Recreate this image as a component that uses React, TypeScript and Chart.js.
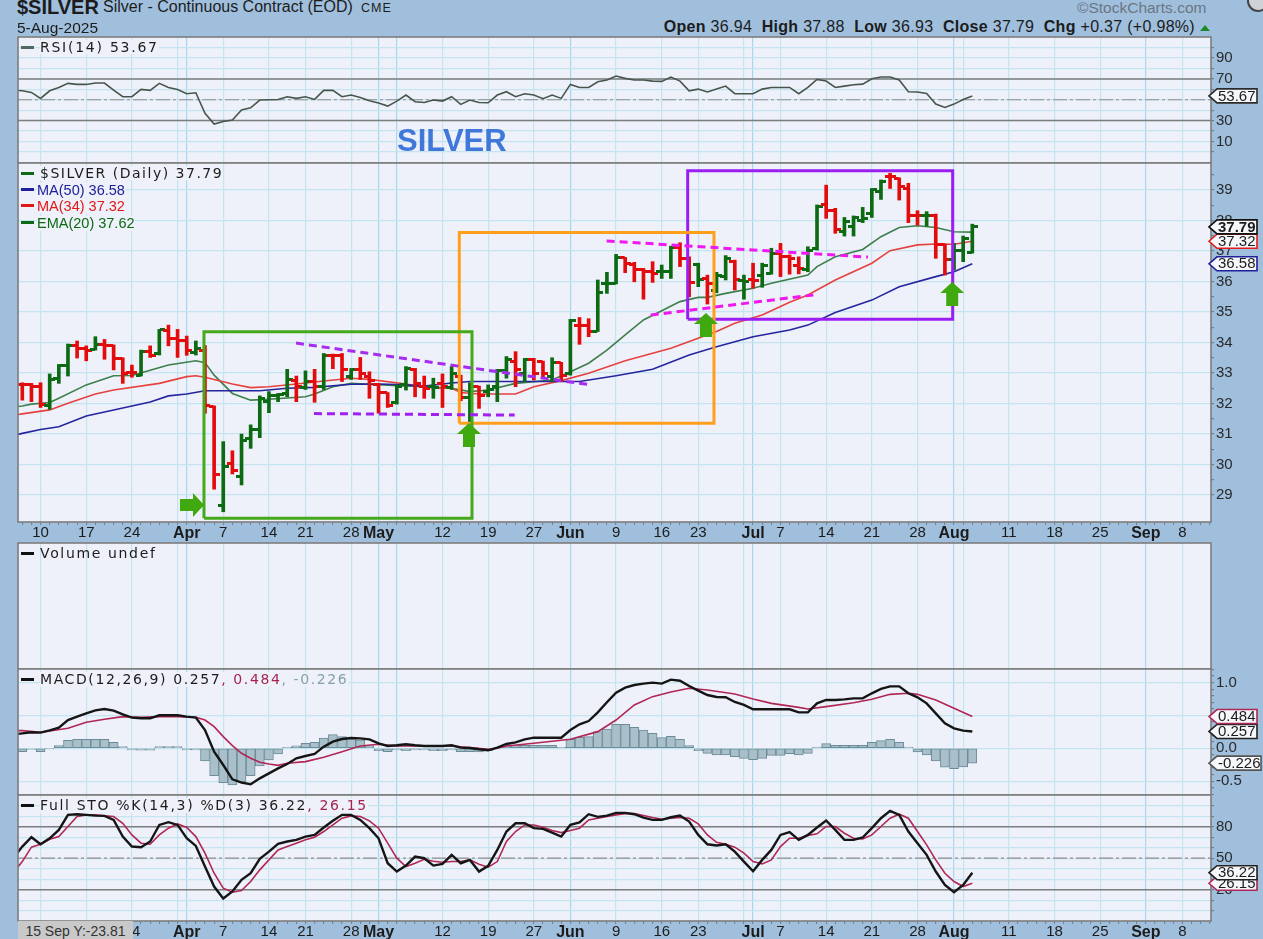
import React, { useEffect, useRef } from "react";
import { Chart, registerables } from "chart.js";

Chart.register(...registerables);

// ---- shared time axis (trading-day index, 0 = 6 Mar 2025) ----
const X_MIN = -0.47;
const X_MAX = 130.13;
const gridDays = [2, 7, 12, 17, 18, 22, 27, 31, 36, 39, 41, 46, 51, 56, 60, 65, 70, 74, 79, 80, 83, 88, 93, 98, 102, 103, 108, 113, 118, 123, 127];
const gridLabels = ["10", "17", "24", "", "Apr", "7", "14", "21", "28", "May", "", "12", "19", "27", "Jun", "9", "16", "23", "", "Jul", "7", "14", "21", "28", "Aug", "", "11", "18", "25", "Sep", "8"];
const monthLabels = ["Apr", "May", "Jun", "Jul", "Aug", "Sep"];

// ---- price bars ----
const opens = [32.61, 32.61, 32.55, 31.95, 32.83, 33.26, 33.89, 33.81, 33.78, 33.95, 33.89, 33.48, 33.01, 32.93, 33.70, 33.64, 34.39, 34.14, 34.05, 33.67, 33.75, 31.90, 28.64, 30.02, 29.62, 30.86, 31.15, 32.06, 32.25, 32.33, 32.77, 32.53, 32.72, 32.55, 33.56, 33.59, 32.88, 33.10, 32.90, 32.61, 32.36, 32.03, 32.61, 33.12, 32.55, 32.55, 32.64, 32.53, 32.88, 32.20, 32.55, 32.39, 32.55, 33.08, 33.39, 32.99, 33.43, 33.37, 32.88, 33.34, 32.99, 34.55, 34.55, 34.36, 35.94, 35.94, 36.78, 36.57, 36.38, 36.32, 36.32, 36.32, 37.12, 36.76, 36.57, 36.10, 35.70, 36.16, 36.65, 36.03, 36.05, 36.21, 36.27, 36.92, 36.81, 36.51, 36.38, 37.09, 38.51, 38.34, 37.63, 37.80, 37.99, 38.23, 38.95, 39.44, 39.38, 39.05, 38.18, 38.18, 38.18, 37.20, 36.73, 37.03, 36.94];
const highs = [32.68, 32.66, 32.68, 32.97, 33.28, 33.95, 34.05, 33.89, 34.19, 34.10, 33.92, 33.50, 33.26, 33.75, 33.89, 34.43, 34.57, 34.43, 34.21, 34.05, 33.90, 31.92, 30.75, 30.45, 31.00, 31.30, 32.25, 32.39, 32.33, 33.12, 32.90, 33.07, 33.12, 33.64, 33.62, 33.64, 33.15, 33.51, 33.04, 32.66, 32.36, 32.61, 33.21, 33.15, 32.90, 32.83, 32.97, 33.21, 32.93, 32.68, 32.57, 32.61, 33.12, 33.54, 33.70, 33.48, 33.48, 33.39, 33.50, 33.35, 34.76, 34.82, 34.78, 36.05, 36.30, 36.89, 36.79, 36.63, 36.43, 36.65, 36.54, 37.16, 37.27, 36.81, 36.60, 36.21, 36.30, 36.85, 36.70, 36.21, 36.60, 36.60, 37.09, 37.25, 36.87, 36.81, 37.14, 38.51, 39.16, 38.40, 38.10, 38.15, 38.43, 39.05, 39.33, 39.55, 39.40, 39.22, 38.32, 38.29, 38.21, 37.23, 37.25, 37.49, 37.88];
const lows = [32.11, 32.06, 31.87, 31.81, 32.66, 32.90, 33.49, 33.40, 33.75, 33.45, 33.10, 32.66, 32.86, 32.90, 33.51, 33.59, 33.89, 33.51, 33.58, 33.59, 31.68, 29.19, 28.45, 29.69, 29.33, 30.53, 30.88, 31.70, 32.06, 32.22, 32.06, 32.46, 32.04, 32.46, 33.14, 32.72, 32.79, 32.79, 32.17, 31.68, 31.87, 31.98, 32.44, 32.22, 32.17, 32.17, 31.87, 32.46, 32.09, 31.40, 31.84, 32.22, 32.06, 32.83, 32.55, 32.72, 32.77, 32.83, 32.72, 32.72, 32.93, 33.94, 34.19, 34.36, 35.61, 35.92, 36.29, 35.99, 35.42, 35.97, 36.10, 36.10, 36.49, 35.50, 35.83, 35.26, 35.63, 36.05, 35.72, 35.42, 35.78, 35.81, 36.24, 36.16, 36.24, 36.25, 36.32, 37.03, 38.07, 37.58, 37.49, 37.49, 37.93, 38.10, 38.69, 39.05, 38.67, 37.93, 37.85, 37.82, 36.76, 36.21, 36.38, 36.65, 36.93];
const closes = [32.61, 32.55, 31.97, 32.80, 33.26, 33.89, 33.79, 33.75, 33.95, 33.91, 33.48, 32.99, 33.01, 33.72, 33.56, 34.41, 34.14, 34.05, 33.75, 33.81, 31.92, 29.68, 29.93, 29.80, 30.80, 31.15, 32.17, 32.25, 32.31, 32.79, 32.55, 32.72, 32.55, 33.59, 33.56, 33.10, 33.10, 32.99, 32.77, 32.36, 31.95, 32.55, 33.15, 32.66, 32.50, 32.52, 32.55, 32.99, 32.20, 32.57, 32.25, 32.46, 33.08, 33.43, 33.10, 33.45, 32.99, 32.99, 33.34, 32.93, 34.72, 34.55, 34.36, 35.63, 35.94, 36.79, 36.60, 36.38, 36.32, 36.27, 36.32, 37.12, 36.76, 35.97, 36.05, 35.94, 36.21, 36.76, 36.05, 35.99, 36.03, 36.54, 36.92, 36.81, 36.76, 36.43, 37.01, 38.45, 38.34, 37.71, 37.96, 38.10, 38.07, 39.00, 39.27, 39.44, 39.11, 38.18, 38.15, 38.18, 37.20, 36.73, 37.03, 37.42, 37.79];
const barDirs = ("dddUUUddUd" + "dddUdUdddU" + "ddUdUUUUUU" + "dUdUddUddd" + "dUUddUdUdU" + "dUUUdUddUd" + "UddUUUdddd" + "UUddUdUUdU" + "dUUdddUUdd" + "UUUUUddddU" + "ddUUU").split("");

// ---- moving averages (sampled at the listed days) ----
const ma50Days = [-1, 0, 2, 4, 7, 10, 14, 16, 18, 20, 23, 26, 29, 32, 36, 39, 42, 44, 47, 49, 54, 61, 65, 69, 73, 76, 80, 84, 86, 89, 93, 96, 100, 102, 104];
const ma50Vals = [30.95, 31.02, 31.15, 31.24, 31.59, 31.79, 32.05, 32.25, 32.31, 32.42, 32.42, 32.42, 32.50, 32.53, 32.63, 32.64, 32.61, 32.57, 32.67, 32.72, 32.72, 32.72, 32.91, 33.12, 33.59, 33.86, 34.19, 34.41, 34.57, 34.98, 35.39, 35.83, 36.16, 36.32, 36.58];
const ma34Days = [-1, 0, 3, 5, 8, 10, 15, 18, 19, 20, 23, 25, 27, 30, 33, 36, 38, 42, 44, 47, 48, 50, 54, 56, 59, 62, 66, 71, 76, 78, 81, 84, 86, 89, 93, 95, 98, 100, 102, 104];
const ma34Vals = [31.62, 31.66, 31.79, 32.01, 32.31, 32.44, 32.66, 32.88, 32.91, 32.86, 32.64, 32.52, 32.55, 32.64, 32.74, 32.83, 32.79, 32.64, 32.53, 32.50, 32.36, 32.31, 32.31, 32.55, 32.75, 32.99, 33.40, 33.81, 34.36, 34.63, 34.90, 35.32, 35.56, 36.05, 36.60, 37.01, 37.20, 37.23, 37.22, 37.32];
const ema20Days = [-1, 0, 1, 3, 4, 7, 10, 12, 16, 19, 20, 21, 23, 25, 27, 31, 32, 34, 36, 38, 41, 44, 47, 49, 51, 54, 58, 60, 62, 64, 66, 68, 72, 74, 75, 77, 80, 82, 86, 87, 89, 92, 94, 96, 98, 100, 102, 104];
const ema20Vals = [31.88, 31.92, 31.98, 32.03, 32.17, 32.61, 32.91, 32.92, 33.26, 33.40, 33.34, 32.93, 32.33, 32.11, 32.14, 32.22, 32.31, 32.55, 32.66, 32.63, 32.58, 32.55, 32.50, 32.39, 32.44, 32.66, 32.77, 33.04, 33.32, 33.75, 34.25, 34.74, 35.34, 35.48, 35.48, 35.61, 35.78, 35.94, 36.21, 36.49, 36.81, 37.05, 37.47, 37.77, 37.83, 37.77, 37.63, 37.62];

// ---- hand-drawn annotations on the price pane ----
const greenBox = { days: [19.89, 49.23], prices: [28.24, 34.35] };
const orangeBox = { days: [47.84, 75.72], prices: [31.35, 37.61] };
const purpleBox = { days: [72.84, 101.85], prices: [34.76, 39.63] };
const purpleFallDays = [29.96, 62.25];
const purpleFallPrices = [33.98, 32.61];
const purpleFlatDays = [31.93, 53.9];
const purpleFlatPrices = [31.67, 31.62];
const magentaFallDays = [63.97, 92.58];
const magentaFallPrices = [37.33, 36.8];
const magentaRiseDays = [68.8, 86.6];
const magentaRisePrices = [34.9, 35.56];
const arrowDays = [19.89, 48.9, 74.84, 101.8];
const arrowPrices = [28.67, 31.36, 34.97, 35.98];
const arrowDirs = ["right", "up", "up", "up"];

// ---- RSI (first value sits one day before the first bar) ----
const rsiVals = [59.2, 58.6, 57.0, 51.3, 58.6, 61.8, 65.7, 64.7, 64.7, 66.0, 66.0, 59.3, 52.9, 52.9, 59.9, 59.0, 65.7, 61.8, 59.9, 55.8, 56.7, 36.9, 26.6, 29.2, 30.5, 40.1, 42.3, 49.7, 50.0, 50.3, 52.9, 51.3, 52.9, 50.3, 59.0, 59.0, 52.9, 54.5, 52.2, 49.0, 46.8, 43.9, 48.7, 54.5, 48.1, 47.4, 49.7, 48.7, 52.9, 45.5, 49.7, 47.4, 47.1, 54.5, 57.7, 52.9, 55.8, 54.5, 51.0, 54.5, 51.3, 64.7, 61.8, 61.8, 67.3, 68.9, 72.7, 70.5, 68.9, 68.9, 67.9, 67.6, 71.8, 67.9, 58.6, 60.2, 57.4, 60.2, 63.1, 55.8, 55.8, 55.8, 60.2, 61.8, 61.8, 61.8, 55.8, 61.8, 69.5, 67.9, 61.8, 63.1, 64.4, 65.0, 70.2, 71.8, 71.8, 68.9, 57.7, 57.4, 56.1, 45.8, 42.6, 45.8, 50.3, 53.67];

// ---- MACD ----
const macdVals = [0.21, 0.228, 0.244, 0.239, 0.274, 0.315, 0.431, 0.482, 0.533, 0.579, 0.599, 0.574, 0.518, 0.467, 0.457, 0.457, 0.503, 0.503, 0.503, 0.482, 0.467, 0.279, -0.051, -0.254, -0.472, -0.523, -0.548, -0.457, -0.381, -0.305, -0.239, -0.152, -0.117, -0.086, 0.025, 0.102, 0.142, 0.157, 0.152, 0.137, 0.076, 0.036, 0.046, 0.061, 0.046, 0.036, 0.036, 0.036, 0.046, 0.010, 0.005, -0.015, -0.030, 0.010, 0.066, 0.091, 0.137, 0.162, 0.162, 0.162, 0.162, 0.279, 0.365, 0.416, 0.548, 0.701, 0.848, 0.924, 0.964, 0.985, 1.0, 0.985, 1.046, 1.03, 0.949, 0.878, 0.812, 0.782, 0.777, 0.706, 0.66, 0.594, 0.594, 0.594, 0.594, 0.594, 0.548, 0.548, 0.685, 0.736, 0.736, 0.746, 0.761, 0.761, 0.838, 0.904, 0.944, 0.944, 0.838, 0.777, 0.685, 0.533, 0.381, 0.305, 0.269, 0.257];
const signalDays = [-1, 0, 2, 3, 5, 7, 9, 11, 13, 15, 17, 19, 20, 21, 22, 23, 24, 25, 26, 27, 28, 29, 31, 33, 35, 37, 39, 41, 44, 47, 49, 51, 52, 53, 56, 60, 63, 65, 67, 69, 71, 73, 75, 78, 80, 82, 85, 86, 88, 91, 93, 95, 97, 98, 100, 102, 104];
const signalVals = [0.27, 0.269, 0.244, 0.264, 0.305, 0.396, 0.442, 0.482, 0.472, 0.482, 0.482, 0.472, 0.431, 0.33, 0.178, 0.041, -0.076, -0.152, -0.213, -0.239, -0.259, -0.228, -0.203, -0.137, -0.051, 0.036, 0.061, 0.036, 0.036, 0.036, 0.01, -0.015, 0, 0.036, 0.076, 0.137, 0.254, 0.431, 0.66, 0.787, 0.858, 0.914, 0.888, 0.827, 0.751, 0.685, 0.624, 0.599, 0.635, 0.695, 0.746, 0.822, 0.838, 0.822, 0.736, 0.609, 0.484];
const histVals = [-0.051, -0.015, -0.051, -0.005, 0.041, 0.122, 0.137, 0.137, 0.137, 0.137, 0.091, 0.025, -0.025, -0.03, -0.03, 0.025, 0.025, 0.025, -0.025, -0.025, -0.193, -0.416, -0.523, -0.558, -0.508, -0.416, -0.269, -0.178, -0.086, 0.015, 0.036, 0.076, 0.091, 0.157, 0.208, 0.178, 0.152, 0.127, 0.036, -0.036, -0.051, -0.025, -0.036, -0.025, -0.025, -0.036, -0.036, -0.025, -0.051, -0.051, -0.056, -0.036, 0.0, 0.036, 0.046, 0.046, 0.046, 0.046, 0.046, 0.015, 0.137, 0.168, 0.178, 0.254, 0.294, 0.365, 0.365, 0.32, 0.279, 0.228, 0.162, 0.183, 0.137, 0.041, -0.036, -0.076, -0.102, -0.102, -0.127, -0.152, -0.173, -0.152, -0.107, -0.107, -0.081, -0.102, -0.076, 0.02, 0.071, 0.046, 0.046, 0.046, 0.046, 0.091, 0.117, 0.137, 0.091, 0.02, -0.056, -0.102, -0.193, -0.289, -0.31, -0.284, -0.226];

// ---- Full stochastic ----
const stoKVals = [50, 61.1, 70, 63.3, 69, 77, 91.3, 91.9, 91.3, 90.6, 90.3, 86.5, 70.6, 61.1, 60.5, 65.9, 81.7, 84.3, 81.7, 69, 61.7, 42.1, 23, 11.6, 18.3, 29.4, 35.7, 49.4, 56.3, 63.7, 65.9, 67.5, 70.6, 72.2, 79.2, 85.6, 91.3, 91.3, 86.5, 78.6, 69, 45.2, 37.3, 43, 51.6, 50, 43, 44.6, 53.2, 45.2, 48.4, 37.3, 42.7, 57.9, 75.4, 83.3, 83.3, 78.6, 77.9, 74.4, 70.6, 81.7, 84, 91.9, 89.4, 90.6, 93.2, 93.2, 91.9, 88.7, 86.5, 86.5, 89, 90.6, 84.9, 72.2, 63.3, 62.1, 63.3, 56.3, 46.8, 37.6, 48.4, 57.9, 72.2, 74.8, 67.5, 72.2, 79.2, 85.9, 77, 67.5, 67.5, 69.7, 78.6, 88.1, 95.1, 91.3, 75.4, 64.3, 53.2, 37.3, 24.6, 17.6, 24.6, 36.22];
const stoDVals = [36, 46.8, 60.5, 63.3, 68.1, 70.6, 80.2, 89.7, 91.3, 91.3, 90.3, 89.7, 83.3, 72.2, 64.3, 63.3, 72.2, 78.6, 82.7, 79.2, 70.6, 54.8, 35.7, 21.4, 17.6, 19.2, 27.8, 38.9, 48.4, 57.9, 61.1, 64.3, 67.5, 70, 75.4, 81.7, 88.1, 90.3, 89.7, 85.6, 78.6, 64.3, 50, 42.1, 45.2, 49, 47.1, 46.2, 46.8, 46.8, 48.4, 44.3, 41.4, 46.8, 65.9, 75.4, 81.7, 81.7, 79.5, 76.3, 74.4, 76.3, 78.6, 86.5, 88.1, 89.7, 91.3, 92.5, 92.5, 90.6, 88.7, 87.1, 88.1, 88.7, 88.1, 82.7, 72.2, 65.2, 63.3, 60.5, 54.8, 46.8, 44.6, 48.4, 61.1, 69, 69, 71.6, 73.2, 80.2, 80.2, 73.8, 69, 68.4, 72.2, 80.2, 88.1, 91.9, 88.1, 75.4, 62.7, 48.4, 35.7, 27.8, 23, 26.15];

// ---- axis ticks ----
const rsiTicks = [90, 80, 70, 60, 50, 40, 30, 20, 10, 0, 100];
const rsiLabels = [90, 70, 30, 10];
const priceTicks = [29, 29.5, 30, 30.5, 31, 31.5, 32, 32.5, 33, 33.5, 34, 34.5, 35, 35.5, 36, 36.5, 37, 37.5, 38, 38.5, 39, 39.5];
const priceLabels = [29, 30, 31, 32, 33, 34, 35, 36, 37, 38, 39];
const macdTicks = [-0.7, -0.6, -0.5, -0.4, -0.3, -0.2, -0.1, 0, 0.1, 0.2, 0.3, 0.4, 0.5, 0.6, 0.7, 0.8, 0.9, 1, 1.1, 1.2];
const macdLabels = [-0.5, 0, 1];
const macdGrid = [-0.5, 0, 0.5, 1];
const stoTicks = [0, 10, 20, 30, 40, 50, 60, 70, 80, 90, 100];
const stoLabels = [20, 50, 80];

const GRID = "#c4e5f0";
const GRID_MONTH = "#a6d8ee";
const FRAME = "#7d7d7d";
const PLOT = "#eff1fa";
const BG = "#9fbfdd";
const UP = "#0c6a12";
const DOWN = "#e30c0c";
const SIGNAL = "#b02655";

const xy = (xs: number[], ys: number[]) => xs.map((x, k) => ({ x, y: ys[k] }));
const fromLead = (ys: number[]) => ys.map((y, k) => ({ x: k - 1, y }));
const level = (y: number) => [{ x: X_MIN, y }, { x: X_MAX, y }];
const boxPath = (b: { days: number[]; prices: number[] }) => [
  { x: b.days[0], y: b.prices[0] },
  { x: b.days[1], y: b.prices[0] },
  { x: b.days[1], y: b.prices[1] },
  { x: b.days[0], y: b.prices[1] },
  { x: b.days[0], y: b.prices[0] },
];

const line = (data: any[], color: string, width: number, order: number, extra: any = {}) => ({
  type: "line", data, borderColor: color, borderWidth: width, pointRadius: 0, tension: 0, order, fill: false, ...extra,
});

function tickCanvas(color: string, side: "open" | "close") {
  const c = document.createElement("canvas");
  c.width = 11;
  c.height = 3;
  const g = c.getContext("2d")!;
  g.fillStyle = color;
  if (side === "open") g.fillRect(0, 0, 5, 3);
  else g.fillRect(6, 0, 5, 3);
  return c;
}

type Tag = { v: number; text: string; color: string; bold?: boolean; right?: number };

function chromePlugin(tags: Tag[], marks?: boolean) {
  return {
    id: "chrome",
    beforeDraw(chart: any) {
      const { ctx, chartArea: a } = chart;
      ctx.save();
      ctx.fillStyle = PLOT;
      ctx.fillRect(a.left, a.top, a.right - a.left, a.bottom - a.top);
      ctx.restore();
    },
    afterDatasetsDraw(chart: any) {
      if (!marks) return;
      const { ctx, scales } = chart;
      ctx.save();
      ctx.fillStyle = "#40a90f";
      arrowDays.forEach((d, k) => {
        const x = scales.x.getPixelForValue(d);
        const y = scales.y.getPixelForValue(arrowPrices[k]);
        ctx.beginPath();
        if (arrowDirs[k] === "right") {
          ctx.moveTo(x, y);
          ctx.lineTo(x - 11, y - 12);
          ctx.lineTo(x - 11, y - 6);
          ctx.lineTo(x - 24, y - 6);
          ctx.lineTo(x - 24, y + 6);
          ctx.lineTo(x - 11, y + 6);
          ctx.lineTo(x - 11, y + 12);
        } else {
          ctx.moveTo(x, y);
          ctx.lineTo(x + 12, y + 11);
          ctx.lineTo(x + 6, y + 11);
          ctx.lineTo(x + 6, y + 24);
          ctx.lineTo(x - 6, y + 24);
          ctx.lineTo(x - 6, y + 11);
          ctx.lineTo(x - 12, y + 11);
        }
        ctx.closePath();
        ctx.fill();
      });
      ctx.restore();
    },
    afterDraw(chart: any) {
      const { ctx, chartArea: a, scales } = chart;
      ctx.save();
      ctx.strokeStyle = FRAME;
      ctx.lineWidth = 1.6;
      ctx.strokeRect(a.left, a.top, a.right - a.left, a.bottom - a.top);
      tags.forEach((t) => {
        const y = scales.y.getPixelForValue(t.v);
        const L = a.right + 2;
        const B = a.right + 8;
        const R = a.right + (t.right ?? 46);
        ctx.beginPath();
        ctx.moveTo(L - 4, y);
        ctx.lineTo(B - 2, y - 7);
        ctx.lineTo(R, y - 7);
        ctx.lineTo(R, y + 7);
        ctx.lineTo(B - 2, y + 7);
        ctx.closePath();
        ctx.fillStyle = "#f5f7fb";
        ctx.fill();
        ctx.strokeStyle = t.color;
        ctx.lineWidth = 1.6;
        ctx.stroke();
        ctx.fillStyle = "#1c1c1c";
        ctx.font = `${t.bold ? "bold " : ""}15px "Liberation Sans"`;
        ctx.textBaseline = "middle";
        ctx.fillText(t.text, B - 1, y + 0.5);
      });
      ctx.restore();
    },
  };
}

function xAxis(labelled: boolean, bottom: number) {
  return {
    type: "linear",
    min: X_MIN,
    max: X_MAX,
    offset: false,
    border: { display: false },
    grid: {
      offset: false,
      color: (c: any) => {
        const k = gridDays.indexOf(c.tick?.value);
        if (k < 0) return "rgba(0,0,0,0)";
        return monthLabels.includes(gridLabels[k]) || k === 10 ? GRID_MONTH : GRID;
      },
      lineWidth: 1.2,
      drawTicks: labelled,
      tickLength: 3,
      tickColor: "#6f7f8f",
      tickWidth: 1,
    },
    ticks: {
      display: labelled,
      autoSkip: false,
      maxRotation: 0,
      padding: -1,
      color: "#1c1c1c",
      font: (c: any) => {
        const k = gridDays.indexOf(c.tick?.value);
        const bold = k >= 0 && monthLabels.includes(gridLabels[k]);
        return { family: "Liberation Sans", size: bold ? 16 : 15, weight: bold ? "bold" : "normal" };
      },
      callback: (v: number) => {
        const k = gridDays.indexOf(v);
        return k >= 0 ? gridLabels[k] : "";
      },
    },
    afterBuildTicks(s: any) {
      const t = [];
      for (let i = 0; i <= 130; i++) t.push({ value: i });
      s.ticks = t;
    },
    afterFit(s: any) {
      s.height = bottom;
      s.paddingLeft = 0;
      s.paddingRight = 0;
    },
  };
}

function yAxis(min: number, max: number, ticks: number[], labels: number[], gridAt: number[], fmt: (v: number) => string) {
  const has = (list: number[], v: number) => list.some((q) => Math.abs(q - v) < 1e-6);
  return {
    type: "linear",
    position: "right",
    min,
    max,
    border: { display: false },
    grid: {
      color: (c: any) => (has(gridAt, c.tick?.value) ? GRID : "rgba(0,0,0,0)"),
      lineWidth: 1.2,
      tickLength: 3,
      tickColor: "#6f7f8f",
      drawTicks: true,
    },
    ticks: {
      autoSkip: false,
      padding: 2,
      color: "#2a2a2a",
      font: { family: "Liberation Sans", size: 15 },
      callback: (v: number) => (has(labels, v) ? fmt(v) : ""),
    },
    afterBuildTicks(s: any) {
      s.ticks = ticks.filter((v) => v >= min && v <= max).map((value) => ({ value }));
    },
    afterFit(s: any) {
      s.width = 52;
      s.paddingTop = 0;
      s.paddingBottom = 0;
    },
  };
}

const PANES = [
  { top: 37, bottom: 163, extra: 0 },
  { top: 163, bottom: 522, extra: 22 },
  { top: 543, bottom: 669, extra: 0 },
  { top: 669, bottom: 795, extra: 0 },
  { top: 795, bottom: 921, extra: 18 },
];

function buildCharts(canvases: HTMLCanvasElement[]) {
  const allDays = opens.map((_, i) => i);
  const barColor = barDirs.map((d) => (d === "U" ? UP : DOWN));
  const openIcons = barDirs.map((d) => tickCanvas(d === "U" ? UP : DOWN, "open"));
  const closeIcons = barDirs.map((d) => tickCanvas(d === "U" ? UP : DOWN, "close"));
  const whole = (v: number) => String(v);

  const datasets: any[][] = [
    [
      line(level(70), FRAME, 1.5, 5),
      line(level(30), FRAME, 1.5, 5),
      line(level(50), "#8d8d8d", 1.2, 5, { borderDash: [14, 3, 3, 3] }),
      line(fromLead(rsiVals), "#46564c", 1.6, 1),
    ],
    [
      { type: "bar", data: allDays.map((i) => ({ x: i, y: [lows[i], highs[i]] })), backgroundColor: barColor, barThickness: 3, grouped: false, order: 4 },
      { type: "line", showLine: false, data: allDays.map((i) => ({ x: i, y: opens[i] })), pointStyle: openIcons, pointRadius: 3, order: 4 },
      { type: "line", showLine: false, data: allDays.map((i) => ({ x: i, y: closes[i] })), pointStyle: closeIcons, pointRadius: 3, order: 4 },
      line(xy(ma50Days, ma50Vals), "#25259e", 1.6, 6),
      line(xy(ma34Days, ma34Vals), "#e5423f", 1.6, 6),
      line(xy(ema20Days, ema20Vals), "#3d7f4a", 1.6, 6),
      line(boxPath(greenBox), "#45a91c", 3, 2),
      line(boxPath(orangeBox), "#ff9f1c", 3, 2),
      line(boxPath(purpleBox), "#9a1df2", 3, 2),
      line(xy(purpleFallDays, purpleFallPrices), "#a52cf0", 3, 1, { borderDash: [8, 5] }),
      line(xy(purpleFlatDays, purpleFlatPrices), "#a020f0", 3, 1, { borderDash: [8, 5] }),
      line(xy(magentaFallDays, magentaFallPrices), "#f018f0", 3, 1, { borderDash: [8, 5] }),
      line(xy(magentaRiseDays, magentaRisePrices), "#f018f0", 3, 1, { borderDash: [8, 5] }),
    ],
    [],
    [
      { type: "bar", data: histVals.map((y, i) => ({ x: i, y })), backgroundColor: "#a9c0ca", borderColor: "#6c8c99", borderWidth: 1, borderSkipped: false, barThickness: 9, grouped: false, order: 5 },
      line(xy(signalDays, signalVals), SIGNAL, 1.6, 3),
      line(fromLead(macdVals), "#151515", 2.4, 2),
    ],
    [
      line(level(80), FRAME, 1.5, 5),
      line(level(20), FRAME, 1.5, 5),
      line(level(50), "#8d8d8d", 1.2, 5, { borderDash: [14, 3, 3, 3] }),
      line(fromLead(stoDVals), SIGNAL, 1.6, 3),
      line(fromLead(stoKVals), "#151515", 2.4, 2),
    ],
  ];

  const macdFmt = (v: number) => (Math.abs(v) < 1e-6 ? "0.0" : v.toFixed(1));
  const yScales = [
    yAxis(-10.7, 110.2, rsiTicks, rsiLabels, rsiTicks, whole),
    yAxis(28.115, 39.885, priceTicks, priceLabels, priceLabels, whole),
    yAxis(0, 1, [], [], [], whole),
    yAxis(-0.711, 1.208, macdTicks, macdLabels, macdGrid, macdFmt),
    yAxis(-9.8, 110.2, stoTicks, stoLabels, stoTicks, whole),
  ];
  const tags: Tag[][] = [
    [{ v: 53.67, text: "53.67", color: "#2c2c2c" }],
    [
      { v: 36.58, text: "36.58", color: "#20209a" },
      { v: 37.32, text: "37.32", color: "#e01c1c" },
      { v: 37.79, text: "37.79", color: "#111111", bold: true },
    ],
    [],
    [
      { v: -0.226, text: "-0.226", color: "#555555", right: 50 },
      { v: 0.257, text: "0.257", color: "#222222" },
      { v: 0.484, text: "0.484", color: SIGNAL },
    ],
    [
      { v: 26.15, text: "26.15", color: SIGNAL },
      { v: 36.22, text: "36.22", color: "#222222" },
    ],
  ];

  return PANES.map((p, k) => {
    const c = canvases[k];
    return new Chart(c, {
      type: "line",
      data: { datasets: datasets[k] },
      options: {
        animation: false,
        responsive: false,
        devicePixelRatio: 1,
        layout: { autoPadding: false, padding: { left: 18, top: 2, right: 0, bottom: 0 } },
        plugins: { legend: { display: false }, tooltip: { enabled: false }, title: { display: false } },
        scales: { x: xAxis(p.extra > 0, p.extra), y: yScales[k] },
      },
      plugins: [chromePlugin(tags[k], k === 1)],
    } as any);
  });
}

const sans = '"Liberation Sans", Arial, sans-serif';
const verd = '"DejaVu Sans", Verdana, sans-serif';

function T({ x, y, size, color = "#1c1c1c", bold, font = sans, bg, spacing, children }: any) {
  return (
    <div
      style={{
        position: "absolute", left: x, top: y, fontFamily: font, fontSize: size, lineHeight: "1", color,
        fontWeight: bold ? 700 : 400, whiteSpace: "pre", background: bg, letterSpacing: spacing, transform: "translateY(-50%)",
      }}
    >
      {children}
    </div>
  );
}

function Dash({ x, y, color }: any) {
  return <div style={{ position: "absolute", left: x, top: y - 1, width: 13, height: 2.5, background: color }} />;
}

export default function App() {
  const refs = useRef<(HTMLCanvasElement | null)[]>([]);
  useEffect(() => {
    const charts = buildCharts(refs.current as HTMLCanvasElement[]);
    return () => charts.forEach((c) => c.destroy());
  }, []);

  return (
    <div style={{ position: "absolute", left: 0, top: 0, width: 1263, height: 939, overflow: "hidden", background: BG, filter: "blur(0.45px)" }}>
      {PANES.map((p, k) => (
        <canvas
          key={k}
          ref={(el) => { refs.current[k] = el; }}
          width={1263}
          height={p.bottom - p.top + 2 + p.extra}
          style={{ position: "absolute", left: 0, top: p.top - 2, display: "block" }}
        />
      ))}

      <T x={17} y={7} size={20} bold>$SILVER</T>
      <T x={103} y={7} size={16}>Silver - Continuous Contract (EOD)</T>
      <T x={361} y={8} size={12.5} spacing="1px">CME</T>
      <T x={17} y={28} size={15.5}>5-Aug-2025</T>
      <T x={1077} y={8} size={15.5} color="#6c7681">©StockCharts.com</T>
      <div style={{ position: "absolute", left: 1247, top: -10, width: 22, height: 22, borderRadius: "50%", border: "2px solid #444", background: "#cfd3d8", boxSizing: "border-box" }} />

      <div style={{ position: "absolute", right: 68, top: 19, fontFamily: sans, fontSize: 16, lineHeight: "16px", letterSpacing: "0.3px", color: "#1c1c1c", whiteSpace: "pre" }}>
        <b>Open</b> 36.94  <b>High</b> 37.88  <b>Low</b> 36.93  <b>Close</b> 37.79  <b>Chg</b> +0.37 (+0.98%)
      </div>
      <div style={{ position: "absolute", left: 1200, top: 25, width: 0, height: 0, borderLeft: "5px solid transparent", borderRight: "5px solid transparent", borderBottom: "6px solid #1f8a2a" }} />

      <T x={40} y={47} size={14} font={verd} spacing="1.75px" bg={PLOT}>RSI(14) 53.67</T>
      <Dash x={21} y={47} color="#4d6a60" />
      <T x={397} y={140} size={31} bold color="#3f78d8">SILVER</T>

      <T x={40} y={173} size={14} font={verd} spacing="1.5px" bg={PLOT}>$SILVER (Daily) 37.79</T>
      <Dash x={21} y={173} color="#0c6a12" />
      <Dash x={21} y={189} color="#20209a" />
      <T x={37} y={190} size={14.5} color="#20209a" bg={PLOT}>MA(50) 36.58</T>
      <Dash x={21} y={205} color="#e01818" />
      <T x={37} y={206} size={14.5} color="#e01818" bg={PLOT}>MA(34) 37.32</T>
      <Dash x={21} y={222} color="#0c6a12" />
      <T x={37} y={223} size={14.5} color="#0c6a12" bg={PLOT}>EMA(20) 37.62</T>

      <Dash x={21} y={553} color="#111" />
      <T x={40} y={553} size={14} font={verd} spacing="1.65px">Volume undef</T>

      <Dash x={21} y={679} color="#111" />
      <div style={{ position: "absolute", left: 40, top: 672, fontFamily: verd, fontSize: 14, lineHeight: "15px", letterSpacing: "1.6px", whiteSpace: "pre", color: "#1c1c1c", background: PLOT }}>
        MACD(12,26,9) 0.257<span style={{ color: "#a3254f" }}>, 0.484</span><span style={{ color: "#84a0ab" }}>, -0.226</span>
      </div>

      <Dash x={21} y={805} color="#111" />
      <div style={{ position: "absolute", left: 40, top: 798, fontFamily: verd, fontSize: 14, lineHeight: "15px", letterSpacing: "1.67px", whiteSpace: "pre", color: "#1c1c1c", background: PLOT }}>
        Full STO %K(14,3) %D(3) 36.22<span style={{ color: "#a3254f" }}>, 26.15</span>
      </div>

      <div style={{ position: "absolute", left: 18, top: 921, width: 115, height: 18, background: "#c9c9c9", fontFamily: sans, fontSize: 14, lineHeight: "20px", color: "#333", textAlign: "center", whiteSpace: "pre" }}>
        15 Sep Y:-23.81
      </div>
    </div>
  );
}
